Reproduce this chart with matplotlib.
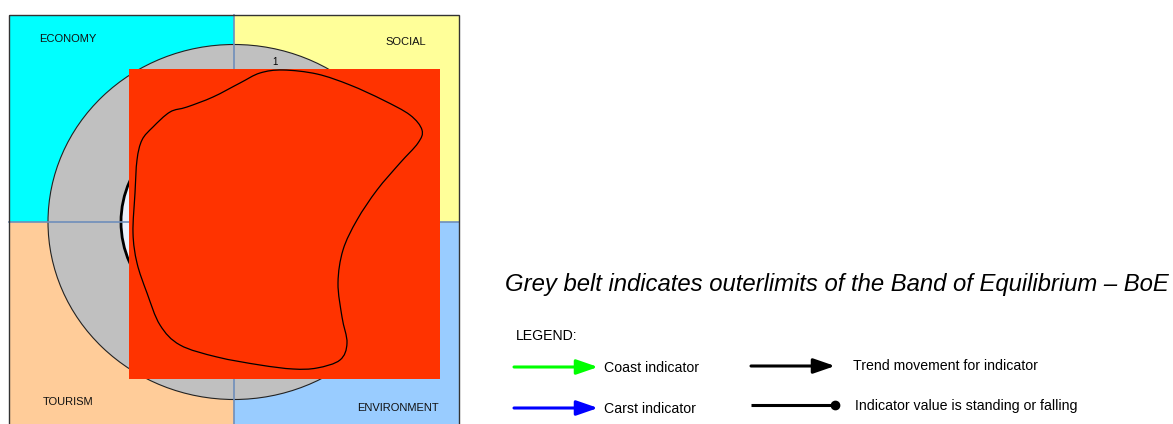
import matplotlib
matplotlib.use("Agg")
import matplotlib.pyplot as plt
import numpy as np
from matplotlib import font_manager
from matplotlib.patches import Rectangle, Ellipse, FancyArrowPatch, PathPatch
from matplotlib.path import Path

# quadrant names and colours
quadrants = ["ECONOMY", "SOCIAL", "TOURISM", "ENVIRONMENT"]
quad_colors = ["#00FFFF", "#FFFF99", "#FFCC99", "#99CCFF"]
ring_label = "1"

# outline of the indicator blob (pixel space)
blob_x = [170, 187, 213, 240, 260, 283, 317, 350, 383, 410, 422, 418, 400, 377,
          357, 343, 338, 342, 347, 340, 317, 293, 260, 217, 180, 160, 147, 137,
          133, 135, 137, 142, 153]
blob_y = [112, 107, 97, 83, 73, 70, 74, 85, 100, 115, 130, 143, 163, 190,
          220, 250, 283, 317, 343, 360, 368, 369, 365, 357, 345, 325, 293, 263,
          233, 193, 160, 140, 127]

title_text = "Grey belt indicates outerlimits of the Band of Equilibrium \u2013 BoE"
legend_title = "LEGEND:"
legend_labels = ["Coast indicator", "Carst indicator",
                 "Trend movement for indicator", "Indicator value is standing or falling"]
legend_colors = ["#00FF00", "#0000FF", "#000000", "#000000"]

names = {f.name for f in font_manager.fontManager.ttflist}
narrow = "Liberation Sans Narrow" if "Liberation Sans Narrow" in names else "Liberation Sans"
narrow_size = 12.2 if narrow == "Liberation Sans Narrow" else 10.2
plt.rcParams["font.family"] = ["Liberation Sans", "DejaVu Sans"]


def closed_spline(xs, ys):
    """Catmull-Rom loop through the points, as a bezier path."""
    pts = np.column_stack([xs, ys]).astype(float)
    n = len(pts)
    verts = [pts[0]]
    codes = [Path.MOVETO]
    for i in range(n):
        p0, p1, p2, p3 = pts[i - 1], pts[i], pts[(i + 1) % n], pts[(i + 2) % n]
        verts += [p1 + (p2 - p0) / 6, p2 - (p3 - p1) / 6, p2]
        codes += [Path.CURVE4] * 3
    return Path(verts, codes)


W, H = 1173, 424
fig = plt.figure(figsize=(W / 100, H / 100), dpi=100)
ax = fig.add_axes([0, 0, 1, 1])
ax.set_xlim(0, W)
ax.set_ylim(H, 0)
ax.axis("off")

# quadrant box
left, top, cx, cy, right, bottom = 8.5, 15, 234, 222, 459, 430
boxes = [(left, top, cx - left, cy - top), (cx, top, right - cx, cy - top),
         (left, cy, cx - left, bottom - cy), (cx, cy, right - cx, bottom - cy)]
for (x0, y0, w, h), c in zip(boxes, quad_colors):
    ax.add_patch(Rectangle((x0, y0), w, h, facecolor=c, edgecolor="none", zorder=1))
ax.add_patch(Rectangle((left, top), right - left, bottom - top, facecolor="none",
                       edgecolor="#333333", lw=1.0, zorder=5))

label_pos = [(67.5, 39), (405.5, 42), (68, 402), (398, 408)]
for name, (tx, ty) in zip(quadrants, label_pos):
    ax.text(tx, ty, name, fontsize=8, ha="center", va="center", color="#111111", zorder=6)

# grey band of equilibrium
ax.add_patch(Ellipse((cx, cy), 372, 355, facecolor="#C0C0C0", edgecolor="#222222",
                     lw=0.8, zorder=2))
ax.add_patch(Ellipse((cx, cy), 226, 212, facecolor="#EAF0FA", edgecolor="black",
                     lw=2.0, zorder=3))
ax.plot([left, right], [cy, cy], color="#6F8EBA", lw=1.2, zorder=4)
ax.plot([cx, cx], [top, bottom], color="#6F8EBA", lw=1.2, zorder=4)
ax.text(275, 62, ring_label, fontsize=7, ha="center", va="center", zorder=4)

# red overlay with indicator outline
ax.add_patch(Rectangle((129, 69), 311, 310, facecolor="#FF3300", edgecolor="none", zorder=7))
ax.add_patch(PathPatch(closed_spline(blob_x, blob_y), facecolor="none",
                       edgecolor="black", lw=0.9, zorder=8))

# caption and legend
ax.text(505, 284, title_text, fontsize=17.2, style="italic", ha="left", va="center")
ax.text(516, 336, legend_title, fontsize=narrow_size, family=narrow, ha="left", va="center")

arrow_rows = [(514, 598, 367), (514, 598, 408), (751, 835, 366)]
text_x = [604, 604, 853, 855]
text_y = [368, 409, 366, 406]
for (x0, x1, y), c in zip(arrow_rows, legend_colors):
    ax.add_patch(FancyArrowPatch((x0, y), (x1, y), arrowstyle="-|>,head_length=13,head_width=4.5",
                                 mutation_scale=1, color=c, lw=2.2, shrinkA=0, shrinkB=0))
ax.plot([751, 835], [405, 405], color=legend_colors[3], lw=2.2,
        marker=None, solid_capstyle="butt")
ax.plot([835], [405], "o", color=legend_colors[3], markersize=6)
for lab, tx, ty in zip(legend_labels, text_x, text_y):
    ax.text(tx, ty, lab, fontsize=narrow_size, family=narrow, ha="left", va="center")

fig.savefig("out.png", dpi=100)
